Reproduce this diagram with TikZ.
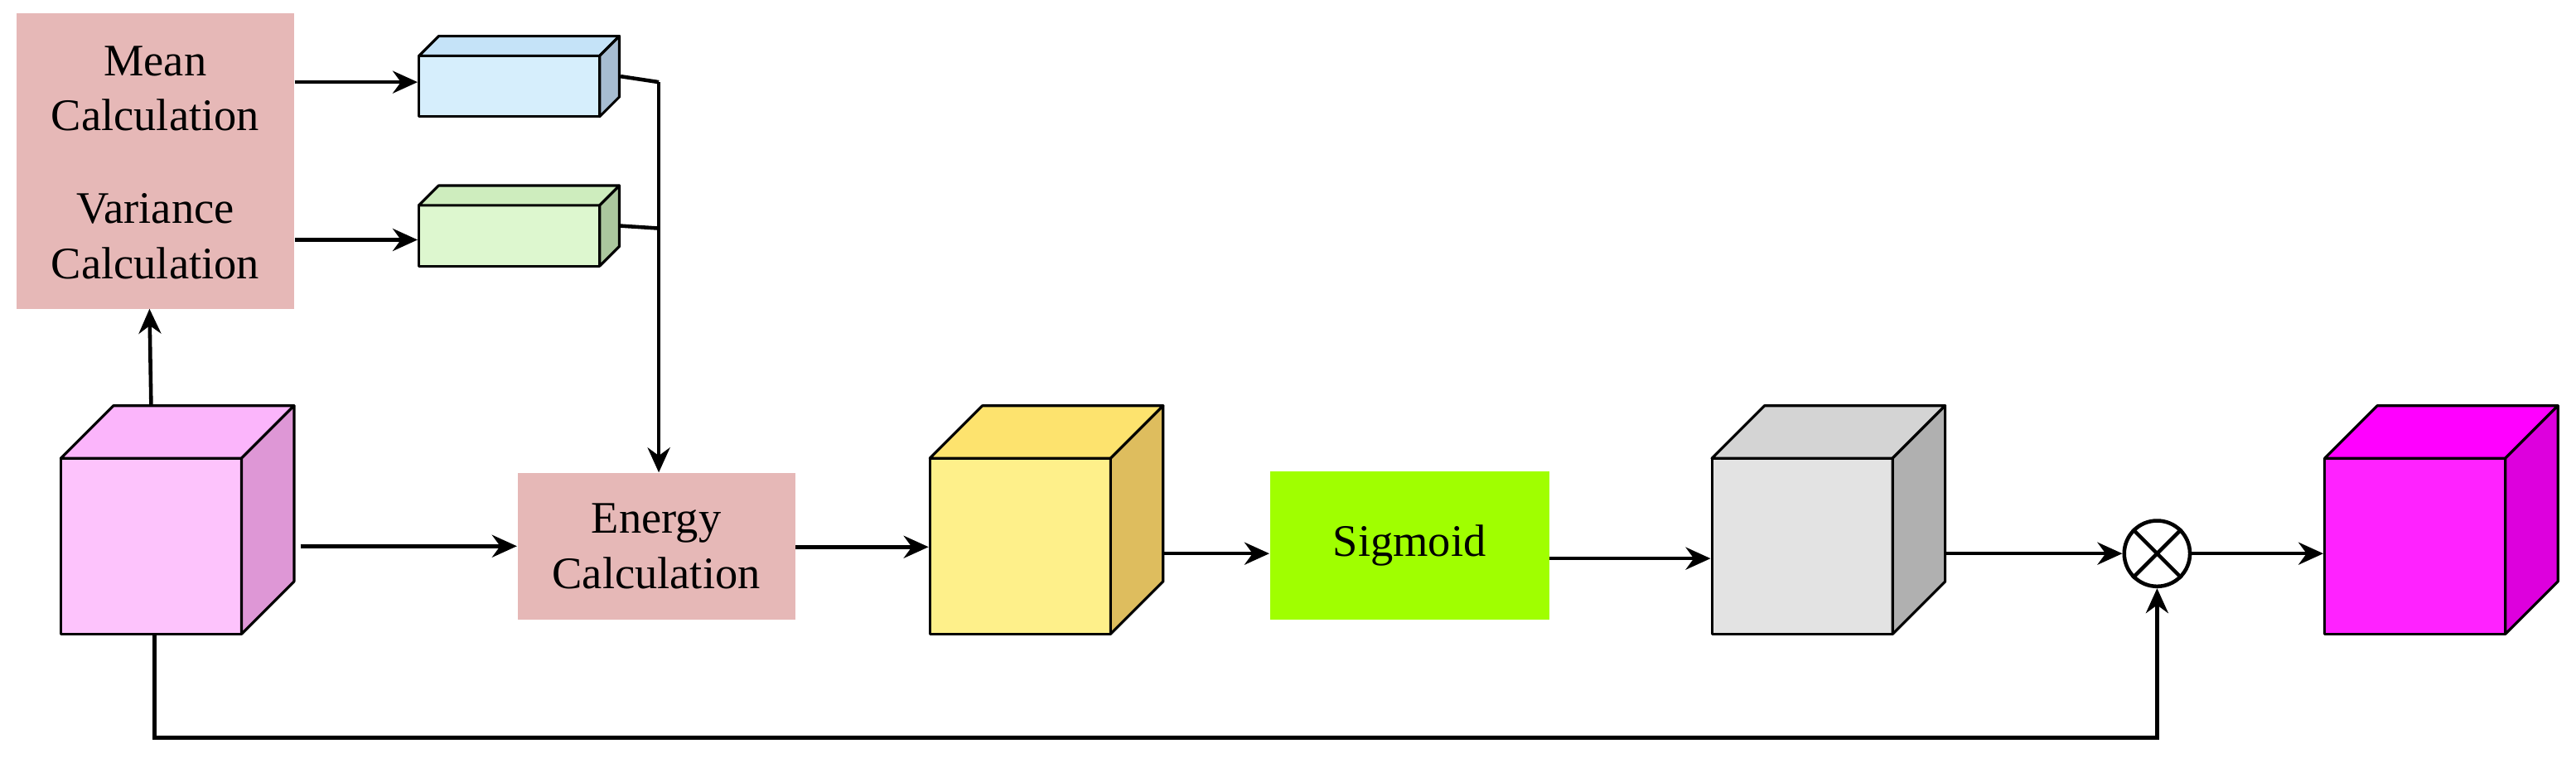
\documentclass[tikz,border=0pt]{standalone}
\usepackage{fontspec}
\setmainfont{Liberation Serif}
\usetikzlibrary{arrows.meta,fit,calc}
\definecolor{boxc}{HTML}{E6B8B7}
\definecolor{sigc}{HTML}{A0FF00}
\definecolor{bf}{HTML}{D6EEFC}\definecolor{bt}{HTML}{C5E3F8}\definecolor{bs}{HTML}{A7BDD2}
\definecolor{vf}{HTML}{DDF7CF}\definecolor{vt}{HTML}{CEEDBE}\definecolor{vs}{HTML}{ABC79E}
\definecolor{pf}{HTML}{FDC3FC}\definecolor{pt}{HTML}{FBB5FB}\definecolor{ps}{HTML}{DE97D6}
\definecolor{yf}{HTML}{FEF08A}\definecolor{yt}{HTML}{FDE36E}\definecolor{ys}{HTML}{DEBD5E}
\definecolor{gf}{HTML}{E3E3E3}\definecolor{gt}{HTML}{D4D4D4}\definecolor{gs}{HTML}{B0B0B0}
\definecolor{mf}{HTML}{FF22FF}\definecolor{mt}{HTML}{FF00FF}\definecolor{ms}{HTML}{DD00DD}
\tikzset{
  face/.style={draw=black,line width=0.9pt,line join=round},
  box/.style={inner sep=0pt,align=center,font=\fontsize{15.5}{19}\selectfont},
  arr/.style={line width=1.3pt,-{Stealth[length=0.3cm,width=0.27cm]}},
  ln/.style={line width=1.3pt},
}
% \mycube{name}{x1}{y1}{x2}{y2}{depth}{front}{top}{side}
\newcommand{\mycube}[9]{%
  \node[face,fill=#7,inner sep=0pt,fit={(#2,#3)(#4,#5)}] (#1) {};
  \draw[face,fill=#8] (#2,#3) -- ++(#6,-#6) -- ($(#4,#3)+(#6,-#6)$) -- (#4,#3) -- cycle;
  \draw[face,fill=#9] (#4,#3) -- ++(#6,-#6) -- ($(#4,#5)+(#6,-#6)$) -- (#4,#5) -- cycle;
  \coordinate (#1-r) at ($(#4,#3)!0.5!(#4,#5)+(#6,0)$);
  \coordinate (#1-t) at ($(#2,#3)!0.5!(#4,#3)+(0,-#6)$);
}
\begin{document}
\begin{tikzpicture}[x=0.01983cm,y=-0.01983cm]
\useasboundingbox (0,0) rectangle (1568,461);
% text boxes
\node[box,fill=boxc,fit={(10,8)(179,100)}] (mean) {};
\node[box] at (mean.center) {Mean\\Calculation};
\node[box,fill=boxc,fit={(10,100)(179,188)}] (var) {};
\node[box] at (var.center) {Variance\\Calculation};
\node[box,fill=boxc,fit={(315,288)(484,377)}] (energy) {};
\node[box] at (energy.center) {Energy\\Calculation};
\node[box,fill=sigc,fit={(773,287)(943,377)}] (sig) {};
\node[box] at (sig.center) {Sigmoid};
% cuboids
\mycube{mbox}{255}{34}{365}{71}{12}{bf}{bt}{bs}
\mycube{vbox}{255}{125}{365}{162}{12}{vf}{vt}{vs}
\mycube{pink}{37}{279}{147}{386}{32}{pf}{pt}{ps}
\mycube{yel}{566}{279}{676}{386}{32}{yf}{yt}{ys}
\mycube{gray}{1042}{279}{1152}{386}{32}{gf}{gt}{gs}
\mycube{mag}{1415}{279}{1525}{386}{32}{mf}{mt}{ms}
% otimes
\node[draw,circle,line width=1.3pt,minimum size={40*0.01983cm},inner sep=0pt] (ot) at (1313,337) {};
\draw[line width=1.3pt] (ot.north west) -- (ot.south east) (ot.north east) -- (ot.south west);
% coordinates
\coordinate (j) at (401,50);
\coordinate (sk1) at (94,449);
\coordinate (sk2) at (1313,449);
% connectors
\draw[arr] (pink-t) -- (91,188) coordinate (vin);
\draw[arr] (mean.east |- 0,50) -- (mbox.west |- 0,50);
\draw[arr] (var.east |- 0,146) -- (vbox.west |- 0,146);
\draw[ln] ($(mbox.east)+(12,-6)$) -- (j);
\draw[ln] ($(vbox.east)+(12,-6)$) -- (j |- 0,139);
\draw[arr] (j) -- (j |- energy.north);
\draw[arr] ($(pink-r)+(4,0)$) -- (energy.west |- pink-r);
\draw[arr] (energy.east |- 0,333) -- (yel.west |- 0,333);
\draw[arr] (yel-r |- 0,337) -- (sig.west |- 0,337);
\draw[arr] (sig.east |- 0,340) -- (gray.west |- 0,340);
\draw[arr] (gray-r |- 0,337) -- (ot.west);
\draw[arr] (ot.east) -- (mag.west |- ot.east);
\draw[arr] (pink.south -| sk1) -- (sk1) -- (sk2) -- (ot.south);
\end{tikzpicture}
\end{document}
